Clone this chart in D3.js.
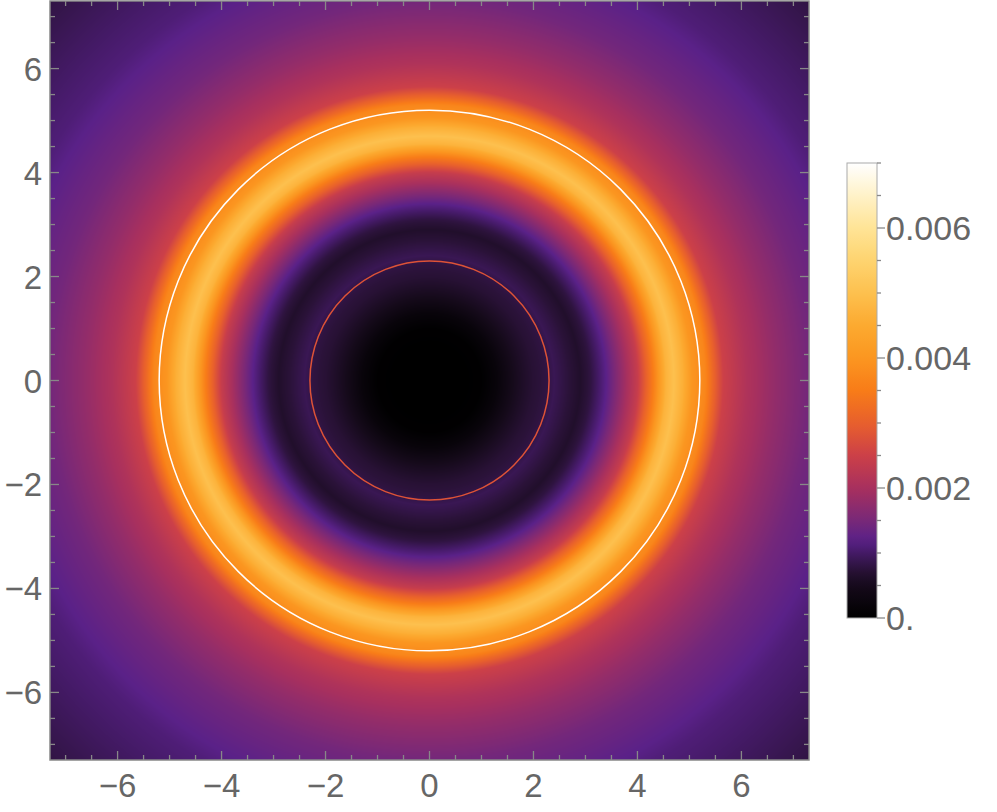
<!DOCTYPE html>
<html>
<head>
<meta charset="utf-8">
<script src="https://cdn.jsdelivr.net/npm/d3@7"></script>
<style>
  html, body { margin: 0; padding: 0; background: #fff; }
  svg { display: block; }
</style>
</head>
<body>
<svg id="chart" width="997" height="812"></svg>
<script>
// ---------------- DATA ----------------
// Radial density profile: radius (axis units) -> value
const radii   = [0,   0.6,   1.0,    1.3,    1.6,    2.0,    2.25,   2.4,    2.6,    2.9,     3.1,    3.4,    3.7,    4.0,    4.3,    4.55,   4.7,    4.88,   5.05,   5.3,    5.46,   5.65,   6.1,    6.6,    7.3,    8.5,    10.4];
const density = [0,   0,     0.00002,0.0002, 0.0005, 0.00072,0.0008, 0.0009, 0.0008, 0.00064, 0.0008, 0.0012, 0.0018, 0.0024, 0.0035, 0.0047, 0.0050, 0.0046, 0.0040, 0.0037, 0.0031, 0.0025, 0.0021, 0.0018, 0.00145,0.0011, 0.0008];
// Thin singular rings
const ringRadii  = [2.3, 5.2];
const ringValues = [0.0028, 0.0070];
// Axis ticks
const axisTicks  = [-6, -4, -2, 0, 2, 4, 6];
const axisDomain = [-7.3, 7.3];
const legendDomain = [0, 0.007];
const legendTicks  = [0, 0.002, 0.004, 0.006];
const legendLabels = ["0.", "0.002", "0.004", "0.006"];

// ---------------- COLOR MAP (style) ----------------
const cmapT = [0, 0.071, 0.107, 0.143, 0.171, 0.214, 0.286, 0.357, 0.429, 0.5, 0.571, 0.643, 0.714, 0.786, 0.857, 0.929, 1];
const cmapC = ["#000000","#150a1a","#2a1238","#441a66","#5a2188","#782878","#a8305e","#cc4048","#e8602c","#f87c18","#fb9620","#fcaa30","#fdc04e","#fed470","#ffe496","#fff2c8","#ffffff"];

// ---------------- LAYOUT ----------------
const L = 50, R = 809, T = 1, B = 760;
const CBX = 847, CBW = 30, CBT = 163, CBB = 618;
const grey = "#888888", labelColor = "#666666";
const font = "'Liberation Sans', Arial, sans-serif";

const svg = d3.select("#chart");
const x = d3.scaleLinear().domain(axisDomain).range([L, R]);
const y = d3.scaleLinear().domain(axisDomain).range([B, T]);
const profile = d3.scaleLinear().domain(radii).range(density).clamp(true);
const tScale = d3.scaleLinear().domain(legendDomain).range([0, 1]).clamp(true);
const cmap = d3.scaleLinear().domain(cmapT).range(cmapC).interpolate(d3.interpolateRgb).clamp(true);

// Color lookup table
const LUT_N = 2048;
const lut = new Uint8ClampedArray(LUT_N * 3);
for (let i = 0; i < LUT_N; i++) {
  const c = d3.rgb(cmap(i / (LUT_N - 1)));
  lut[i*3] = c.r; lut[i*3+1] = c.g; lut[i*3+2] = c.b;
}

// ---------------- DENSITY IMAGE ----------------
const pw = R - L, ph = B - T;
const canvas = document.createElement("canvas");
canvas.width = pw; canvas.height = ph;
const ctx = canvas.getContext("2d");
const img = ctx.createImageData(pw, ph);
for (let py = 0; py < ph; py++) {
  const yv = y.invert(T + py + 0.5);
  for (let px = 0; px < pw; px++) {
    const xv = x.invert(L + px + 0.5);
    const r = Math.hypot(xv, yv);
    const t = tScale(profile(r));
    const k = Math.round(t * (LUT_N - 1)) * 3;
    const o = (py * pw + px) * 4;
    img.data[o] = lut[k]; img.data[o+1] = lut[k+1]; img.data[o+2] = lut[k+2]; img.data[o+3] = 255;
  }
}
ctx.putImageData(img, 0, 0);
svg.append("image")
  .attr("x", L).attr("y", T).attr("width", pw).attr("height", ph)
  .attr("preserveAspectRatio", "none")
  .attr("href", canvas.toDataURL());

// Thin rings
svg.append("g").selectAll("circle").data(ringRadii).join("circle")
  .attr("cx", x(0)).attr("cy", y(0))
  .attr("r", d => x(d) - x(0))
  .attr("fill", "none")
  .attr("stroke", (d, i) => cmap(tScale(ringValues[i])))
  .attr("stroke-width", 1.5);

// ---------------- FRAME + TICKS ----------------
const minor = d3.range(-7, 7.01, 0.5).filter(v => !axisTicks.includes(v));
const fmt = d3.format("d");
const g = svg.append("g").attr("stroke", grey).attr("stroke-width", 1.3);
axisTicks.forEach(v => {
  g.append("line").attr("x1", x(v)).attr("x2", x(v)).attr("y1", B).attr("y2", B - 9);
  g.append("line").attr("x1", x(v)).attr("x2", x(v)).attr("y1", T).attr("y2", T + 9);
  g.append("line").attr("y1", y(v)).attr("y2", y(v)).attr("x1", L).attr("x2", L + 9);
  g.append("line").attr("y1", y(v)).attr("y2", y(v)).attr("x1", R).attr("x2", R - 9);
});
minor.forEach(v => {
  g.append("line").attr("x1", x(v)).attr("x2", x(v)).attr("y1", B).attr("y2", B - 5);
  g.append("line").attr("x1", x(v)).attr("x2", x(v)).attr("y1", T).attr("y2", T + 5);
  g.append("line").attr("y1", y(v)).attr("y2", y(v)).attr("x1", L).attr("x2", L + 5);
  g.append("line").attr("y1", y(v)).attr("y2", y(v)).attr("x1", R).attr("x2", R - 5);
});
svg.append("rect").attr("x", L).attr("y", T).attr("width", pw).attr("height", ph)
  .attr("fill", "none").attr("stroke", grey).attr("stroke-width", 1.5);

// Tick labels
svg.append("g").selectAll("text").data(axisTicks).join("text")
  .attr("x", d => x(d)).attr("y", 797)
  .attr("text-anchor", "middle")
  .attr("font-family", font).attr("font-size", 33).attr("fill", labelColor)
  .text(d => fmt(d));
svg.append("g").selectAll("text").data(axisTicks).join("text")
  .attr("x", 42).attr("y", d => y(d) + 12)
  .attr("text-anchor", "end")
  .attr("font-family", font).attr("font-size", 33).attr("fill", labelColor)
  .text(d => fmt(d));

// ---------------- COLOR BAR ----------------
const cy = d3.scaleLinear().domain(legendDomain).range([CBB, CBT]);
const defs = svg.append("defs");
const grad = defs.append("linearGradient").attr("id", "cbgrad")
  .attr("x1", 0).attr("y1", 1).attr("x2", 0).attr("y2", 0);
d3.range(0, 1.0001, 0.02).forEach(t => {
  grad.append("stop").attr("offset", t).attr("stop-color", cmap(t));
});
svg.append("rect").attr("x", CBX).attr("y", CBT).attr("width", CBW).attr("height", CBB - CBT)
  .attr("fill", "url(#cbgrad)").attr("stroke", "#aaaaaa").attr("stroke-width", 1);
const cbMinor = d3.range(0, 0.00701, 0.0005);
const cg = svg.append("g").attr("stroke", grey).attr("stroke-width", 1.3);
cbMinor.forEach(v => {
  const isMajor = legendTicks.some(m => Math.abs(m - v) < 1e-9);
  cg.append("line").attr("x1", CBX + CBW).attr("x2", CBX + CBW + (isMajor ? 8 : 4))
    .attr("y1", cy(v)).attr("y2", cy(v));
});
svg.append("g").selectAll("text").data(legendTicks).join("text")
  .attr("x", CBX + CBW + 9).attr("y", d => cy(d) + 12)
  .attr("font-family", font).attr("font-size", 34).attr("fill", labelColor)
  .text((d, i) => legendLabels[i]);
</script>
</body>
</html>
